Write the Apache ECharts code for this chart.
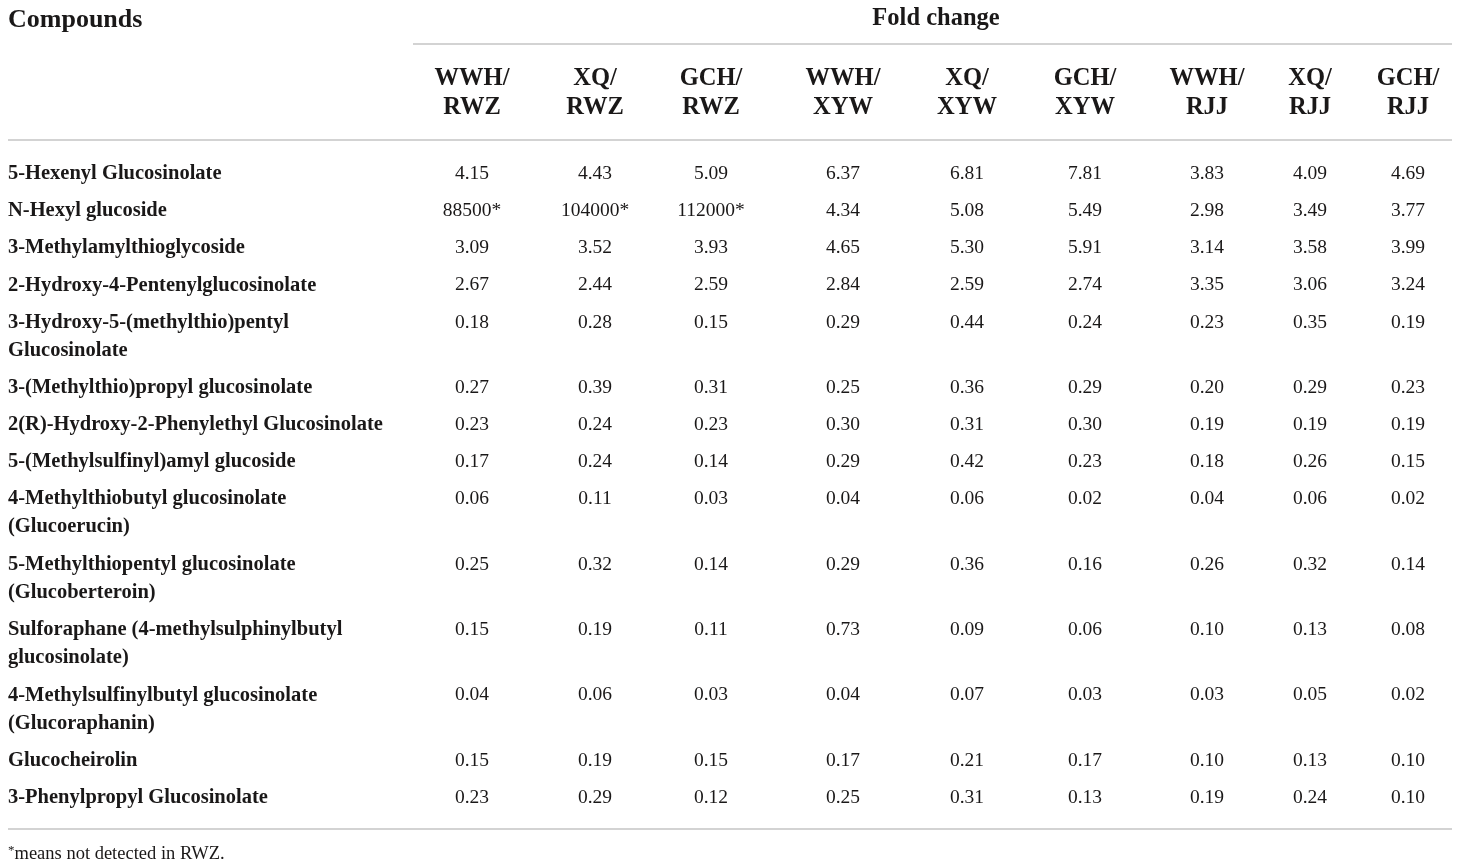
<!DOCTYPE html>
<html>
<head>
<meta charset="utf-8">
<script src="https://cdn.jsdelivr.net/npm/echarts@6/dist/echarts.min.js"></script>
<style>
html,body{margin:0;padding:0;background:#fff;}
#chart{width:1460px;height:866px;}
</style>
</head>
<body>
<div id="chart"></div>
<script>
// ---------- data ----------
const compounds = [
  '5-Hexenyl Glucosinolate',
  'N-Hexyl glucoside',
  '3-Methylamylthioglycoside',
  '2-Hydroxy-4-Pentenylglucosinolate',
  '3-Hydroxy-5-(methylthio)pentyl\nGlucosinolate',
  '3-(Methylthio)propyl glucosinolate',
  '2(R)-Hydroxy-2-Phenylethyl Glucosinolate',
  '5-(Methylsulfinyl)amyl glucoside',
  '4-Methylthiobutyl glucosinolate\n(Glucoerucin)',
  '5-Methylthiopentyl glucosinolate\n(Glucoberteroin)',
  'Sulforaphane (4-methylsulphinylbutyl\nglucosinolate)',
  '4-Methylsulfinylbutyl glucosinolate\n(Glucoraphanin)',
  'Glucocheirolin',
  '3-Phenylpropyl Glucosinolate'
];
const columnLabels = ['WWH/\nRWZ','XQ/\nRWZ','GCH/\nRWZ','WWH/\nXYW','XQ/\nXYW','GCH/\nXYW','WWH/\nRJJ','XQ/\nRJJ','GCH/\nRJJ'];
const wwhRwz = ['4.15','88500*','3.09','2.67','0.18','0.27','0.23','0.17','0.06','0.25','0.15','0.04','0.15','0.23'];
const xqRwz  = ['4.43','104000*','3.52','2.44','0.28','0.39','0.24','0.24','0.11','0.32','0.19','0.06','0.19','0.29'];
const gchRwz = ['5.09','112000*','3.93','2.59','0.15','0.31','0.23','0.14','0.03','0.14','0.11','0.03','0.15','0.12'];
const wwhXyw = ['6.37','4.34','4.65','2.84','0.29','0.25','0.30','0.29','0.04','0.29','0.73','0.04','0.17','0.25'];
const xqXyw  = ['6.81','5.08','5.30','2.59','0.44','0.36','0.31','0.42','0.06','0.36','0.09','0.07','0.21','0.31'];
const gchXyw = ['7.81','5.49','5.91','2.74','0.24','0.29','0.30','0.23','0.02','0.16','0.06','0.03','0.17','0.13'];
const wwhRjj = ['3.83','2.98','3.14','3.35','0.23','0.20','0.19','0.18','0.04','0.26','0.10','0.03','0.10','0.19'];
const xqRjj  = ['4.09','3.49','3.58','3.06','0.35','0.29','0.19','0.26','0.06','0.32','0.13','0.05','0.13','0.24'];
const gchRjj = ['4.69','3.77','3.99','3.24','0.19','0.23','0.19','0.15','0.02','0.14','0.08','0.02','0.10','0.10'];
const columns = [wwhRwz, xqRwz, gchRwz, wwhXyw, xqXyw, gchXyw, wwhRjj, xqRjj, gchRjj];
const headerLeft = 'Compounds';
const headerGroup = 'Fold change';
const footnote = 'means not detected in RWZ.';

// ---------- layout ----------
const W = 1460, H = 866;
const FONT = '"Liberation Serif", "DejaVu Serif", serif';
const INK = '#1a1818';
const RULE = '#c4c4c4';
const nameX = 8;
const colCenters = [472, 595, 711, 843, 967, 1085, 1207, 1310, 1408];
const firstRowTop = 160;
const rowUnit = 37.1;
const lineExtra = 28.3;
const bodyLine = 28;
const groupLeft = 413, tableLeft = 8, tableRight = 1452;
const topRuleY = 44, headRuleY = 140, bottomRuleY = 829;

// row tops derived from number of lines in each compound name
const rowTops = [];
(function(){
  let y = firstRowTop;
  compounds.forEach(c => {
    rowTops.push(y);
    y += rowUnit + (c.split('\n').length - 1) * lineExtra;
  });
})();

const nameData = compounds.map((c, i) => ({ value: [nameX, rowTops[i]], label: { formatter: c } }));
const cellData = [];
columns.forEach((col, ci) => {
  col.forEach((v, ri) => {
    cellData.push({ value: [colCenters[ci], rowTops[ri]], label: { formatter: v } });
  });
});
const headData = columnLabels.map((h, ci) => ({ value: [colCenters[ci], 64], label: { formatter: h } }));

const hidden = { show: false };
const solid = { opacity: 1 };
const option = {
  animation: false,
  backgroundColor: '#fff',
  grid: { left: 0, right: 0, top: 0, bottom: 0, containLabel: false },
  xAxis: { type: 'value', min: 0, max: W, show: false },
  yAxis: { type: 'value', min: 0, max: H, inverse: true, show: false },
  series: [
    {
      type: 'scatter', name: 'names', symbolSize: 0, silent: true, itemStyle: solid,
      data: nameData,
      label: { show: true, opacity: 1, position: 'inside', align: 'left', verticalAlign: 'top',
        color: INK, fontFamily: FONT, fontWeight: 'bold', fontSize: 20.5, lineHeight: bodyLine },
      markLine: {
        silent: true, symbol: 'none', animation: false,
        label: hidden,
        lineStyle: { color: RULE, width: 1.6, type: 'solid', opacity: 1 },
        data: [
          [{ coord: [groupLeft, topRuleY] }, { coord: [tableRight, topRuleY] }],
          [{ coord: [tableLeft, headRuleY] }, { coord: [tableRight, headRuleY] }],
          [{ coord: [tableLeft, bottomRuleY] }, { coord: [tableRight, bottomRuleY] }]
        ]
      }
    },
    {
      type: 'scatter', name: 'cells', symbolSize: 0, silent: true, itemStyle: solid,
      data: cellData,
      label: { show: true, opacity: 1, position: 'inside', align: 'center', verticalAlign: 'top',
        color: INK, fontFamily: FONT, fontSize: 19.5, lineHeight: bodyLine }
    },
    {
      type: 'scatter', name: 'colheads', symbolSize: 0, silent: true, itemStyle: solid,
      data: headData,
      label: { show: true, opacity: 1, position: 'inside', align: 'center', verticalAlign: 'top',
        color: INK, fontFamily: FONT, fontWeight: 'bold', fontSize: 24.5, lineHeight: 29 }
    },
    {
      type: 'scatter', name: 'titles', symbolSize: 0, silent: true, itemStyle: solid,
      data: [
        { value: [nameX, 20], label: { formatter: headerLeft, align: 'left', fontSize: 26 } },
        { value: [936, 19], label: { formatter: headerGroup, align: 'center', fontSize: 24.5 } }
      ],
      label: { show: true, opacity: 1, position: 'inside', verticalAlign: 'middle',
        color: INK, fontFamily: FONT, fontWeight: 'bold' }
    },
    {
      type: 'scatter', name: 'footnote', symbolSize: 0, silent: true, itemStyle: solid,
      data: [{ value: [nameX, 854], label: { formatter: '{sup|*}' + footnote } }],
      label: { show: true, opacity: 1, position: 'inside', align: 'left', verticalAlign: 'middle',
        color: INK, fontFamily: FONT, fontSize: 18.5,
        rich: { sup: { fontSize: 13, verticalAlign: 'top', padding: [0, 0, 6, 0], fontFamily: FONT, color: INK } } }
    }
  ]
};
const chart = echarts.init(document.getElementById('chart'), null, { renderer: 'canvas' });
chart.setOption(option);
</script>
</body>
</html>
